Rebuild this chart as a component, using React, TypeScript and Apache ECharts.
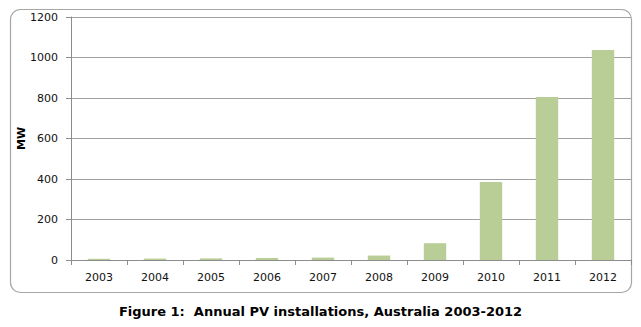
import React, { useEffect, useRef } from "react";
import * as echarts from "echarts";

const years = ["2003", "2004", "2005", "2006", "2007", "2008", "2009", "2010", "2011", "2012"];
const installationsMW = [6, 7, 8, 10, 12, 22, 83, 385, 805, 1037];
const yMin = 0;
const yMax = 1200;
const yInterval = 200;
const titleText = "Figure 1:  Annual PV installations, Australia 2003-2012";
const yAxisName = "MW";

export default function App() {
  const ref = useRef<HTMLDivElement>(null);
  useEffect(() => {
    if (!ref.current) return;
    const chart = echarts.init(ref.current, null, { renderer: "svg" });
    const font = "Verdana, 'DejaVu Sans', sans-serif";
    chart.setOption({
      animation: false,
      backgroundColor: "#ffffff",
      grid: { left: 71, right: 10, top: 17, bottom: 67, containLabel: false },
      graphic: [
        {
          type: "rect",
          shape: { x: 10.5, y: 9.5, width: 621, height: 283, r: 10 },
          style: { fill: "none", stroke: "#a6a6a6", lineWidth: 1.2 },
          silent: true,
        },
        {
          type: "text",
          left: "center",
          top: 305,
          style: {
            text: titleText,
            font: "bold 13px " + font,
            fill: "#000",
          },
        },
      ],
      xAxis: {
        type: "category",
        data: years,
        axisLine: { lineStyle: { color: "#8c8c8c", width: 1 } },
        axisTick: { show: true, length: 5, lineStyle: { color: "#8c8c8c" } },
        axisLabel: { color: "#111", fontFamily: font, fontSize: 11, margin: 12 },
      },
      yAxis: {
        type: "value",
        min: yMin,
        max: yMax,
        interval: yInterval,
        name: yAxisName,
        nameLocation: "middle",
        nameGap: 44,
        nameMoveOverlap: false,
        nameRotate: 90,
        nameTextStyle: { fontFamily: font, fontWeight: "bold", fontSize: 11, color: "#000" },
        axisLine: { show: true, lineStyle: { color: "#8c8c8c", width: 1 } },
        axisTick: { show: true, length: 5, lineStyle: { color: "#8c8c8c" } },
        axisLabel: {
          color: "#111",
          fontFamily: font,
          fontSize: 11,
          margin: 13,
          formatter: (v: number) => String(v),
        },
        splitLine: { lineStyle: { color: "#a0a0a0", width: 1 } },
      },
      series: [
        {
          type: "bar",
          data: installationsMW,
          barWidth: "40%",
          itemStyle: { color: "#b9ce96" },
        },
      ],
    });
    return () => chart.dispose();
  }, []);
  return (
    <div
      ref={ref}
      style={{ position: "fixed", left: 0, top: 0, width: 641, height: 327 }}
    />
  );
}
